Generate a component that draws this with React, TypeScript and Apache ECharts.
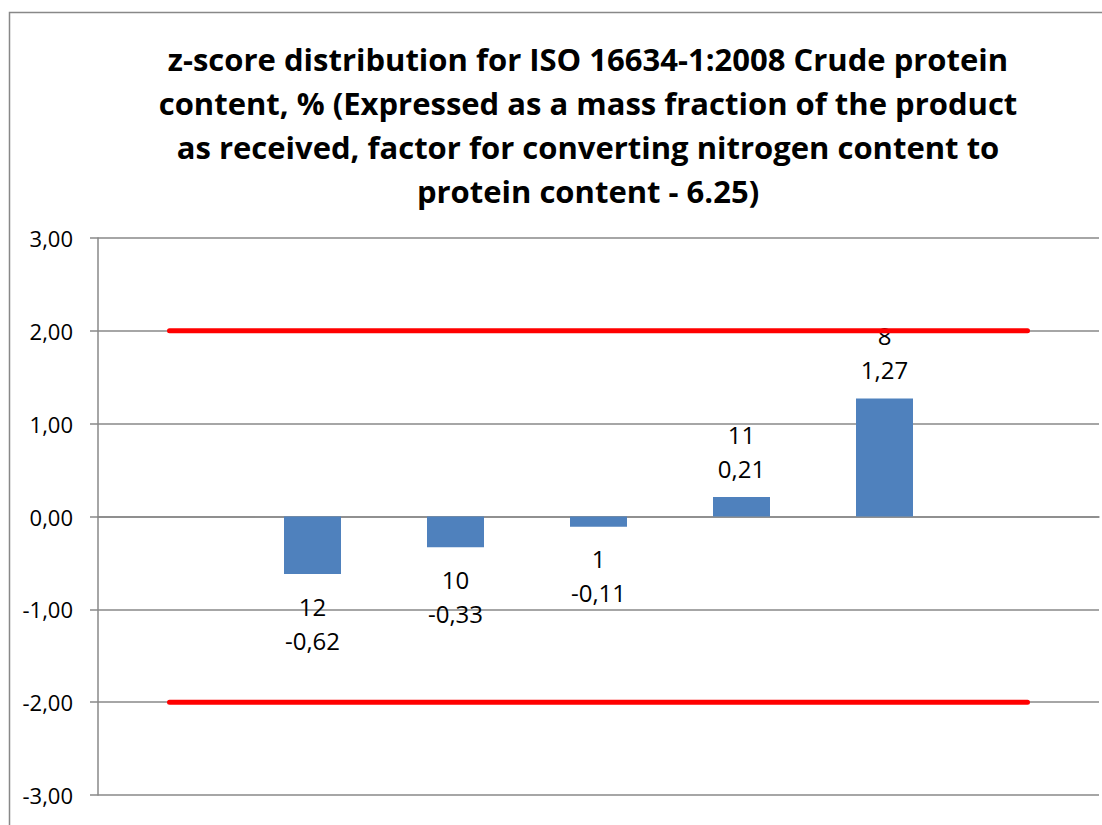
import React, { useEffect, useRef } from "react";
import * as echarts from "echarts";

const categories = ["", "12", "10", "1", "11", "8", ""];
const zScores: (number | null)[] = [null, -0.62, -0.33, -0.11, 0.21, 1.27, null];
const upperLimit = [2, 2, 2, 2, 2, 2, 2];
const lowerLimit = [-2, -2, -2, -2, -2, -2, -2];
const yTicks = { min: -3, max: 3, interval: 1 };
const titleText =
  "z-score distribution for ISO 16634-1:2008 Crude protein\ncontent, % (Expressed as a mass fraction of the product\nas received, factor for converting nitrogen content to\nprotein content - 6.25)";

const fmt = (v: number) => v.toFixed(2).replace(".", ",");

export default function App() {
  const ref = useRef<HTMLDivElement>(null);
  useEffect(() => {
    if (!ref.current) return;
    const chart = echarts.init(ref.current, undefined, { renderer: "svg" });
    const gray = "#888888";
    chart.setOption({
      animation: false,
      backgroundColor: "#ffffff",
      title: {
        text: titleText,
        left: 588,
        top: 37,
        padding: 0,
        textAlign: "center",
        textStyle: {
          fontFamily: "Open Sans",
          fontWeight: "bold",
          fontSize: 31,
          lineHeight: 44,
          color: "#000",
        },
      },
      graphic: [
        {
          type: "rect",
          shape: { x: 9.5, y: 12.5, width: 1200, height: 900 },
          style: { fill: "none", stroke: gray, lineWidth: 1.5 },
          silent: true,
          z: -10,
        },
      ],
      grid: { left: 98, right: 3, top: 238, bottom: 30, containLabel: false },
      xAxis: {
        type: "category",
        data: categories,
        boundaryGap: true,
        axisLine: { show: true, lineStyle: { color: gray, width: 1.5 } },
        axisTick: { show: false },
        axisLabel: { show: false },
        splitLine: { show: false },
      },
      yAxis: {
        type: "value",
        min: yTicks.min,
        max: yTicks.max,
        interval: yTicks.interval,
        axisLine: { show: true, lineStyle: { color: gray, width: 1.5 } },
        axisTick: { show: true, length: 8, lineStyle: { color: gray, width: 1.5 } },
        axisLabel: {
          margin: 25,
          fontFamily: "Open Sans",
          fontSize: 22,
          color: "#000",
          formatter: (v: number) => fmt(v),
        },
        splitLine: { show: true, lineStyle: { color: gray, width: 1.5 } },
      },
      series: [
        {
          type: "bar",
          data: zScores.map((v) =>
            v === null
              ? null
              : {
                  value: v,
                  label: {
                    position: v >= 0 ? "top" : "bottom",
                    distance: v >= 0 ? 12 : 15,
                  },
                }
          ),
          barWidth: 57,
          itemStyle: { color: "#4F81BD" },
          label: {
            show: true,
            fontFamily: "Open Sans",
            fontSize: 24,
            lineHeight: 34,
            color: "#000",
            formatter: (p: any) => `${categories[p.dataIndex]}\n${fmt(p.value)}`,
          },
          z: 2,
        },
        {
          type: "line",
          data: upperLimit,
          symbol: "none",
          lineStyle: { color: "#FF0000", width: 5, cap: "round" },
          z: 3,
        },
        {
          type: "line",
          data: lowerLimit,
          symbol: "none",
          lineStyle: { color: "#FF0000", width: 5, cap: "round" },
          z: 3,
        },
      ],
    });
    return () => chart.dispose();
  }, []);
  return (
    <div
      ref={ref}
      style={{ position: "absolute", left: 0, top: 0, width: 1102, height: 825 }}
    />
  );
}
